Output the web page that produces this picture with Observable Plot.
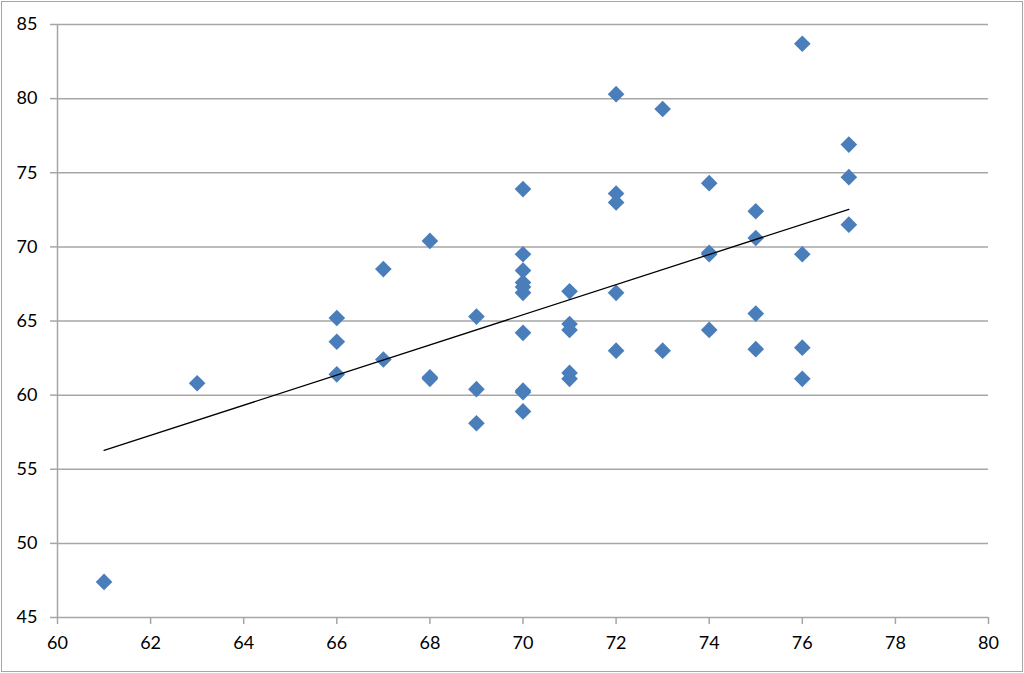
<!DOCTYPE html>
<html>
<head>
<meta charset="utf-8">
<script src="https://cdn.jsdelivr.net/npm/d3@7"></script>
<script src="https://cdn.jsdelivr.net/npm/@observablehq/plot@0.6"></script>
<style>
  html, body { margin: 0; padding: 0; background: #fff; }
  #chart svg { display: block; outline: 1.5px solid #a6a6a6; outline-offset: -2px; }
</style>
</head>
<body>
<div id="chart"></div>
<script>
const xValues = [61, 63, 66, 66, 66, 67, 67, 68, 68, 68, 69, 69, 69,
  70, 70, 70, 70, 70, 70, 70, 70, 70, 70,
  71, 71, 71, 71, 71,
  72, 72, 72, 72, 72,
  73, 73,
  74, 74, 74, 74,
  75, 75, 75, 75,
  76, 76, 76, 76,
  77, 77, 77];
const yValues = [47.4, 60.8, 65.2, 63.6, 61.4, 68.5, 62.4, 70.4, 61.2, 61.1, 65.3, 60.4, 58.1,
  73.9, 69.5, 68.4, 67.6, 67.3, 66.9, 64.2, 60.3, 60.2, 58.9,
  67.0, 64.8, 64.4, 61.5, 61.1,
  80.3, 73.6, 73.0, 66.9, 63.0,
  79.3, 63.0,
  74.3, 69.6, 69.5, 64.4,
  72.4, 70.6, 65.5, 63.1,
  83.7, 69.5, 63.2, 61.1,
  76.9, 74.7, 71.5];
const xTicks = [60, 62, 64, 66, 68, 70, 72, 74, 76, 78, 80];
const yTicks = [45, 50, 55, 60, 65, 70, 75, 80, 85];

const data = xValues.map((x, i) => ({x, y: yValues[i]}));

const chart = Plot.plot({
  width: 1024,
  height: 673,
  marginLeft: 57,
  marginRight: 36,
  marginTop: 24,
  marginBottom: 56,
  style: {fontFamily: "Lato, sans-serif", fontSize: "18px", background: "#fff", color: "black"},
  x: {domain: [60, 80], ticks: xTicks, label: null},
  y: {domain: [45, 85], ticks: yTicks, label: null},
  marks: [
    Plot.gridY(yTicks, {stroke: "#a6a6a6", strokeOpacity: 1, strokeWidth: 1.5}),
    Plot.ruleX([60], {stroke: "#a6a6a6", strokeWidth: 1.5}),
    Plot.axisY(yTicks, {tickSize: 7, tickPadding: 13, stroke: "#a6a6a6", strokeWidth: 1.5, fill: "black"}),
    Plot.axisX(xTicks, {tickSize: 7, tickPadding: 12, stroke: "#a6a6a6", strokeWidth: 1.5, fill: "black"}),
    Plot.dot(data, {x: "x", y: "y", symbol: "diamond2", r: 7.5, fill: "#4a7ebb", stroke: "none"}),
    Plot.linearRegressionY(data, {x: "x", y: "y", stroke: "black", strokeWidth: 1.3, ci: 0})
  ]
});
document.getElementById("chart").appendChild(chart);
</script>
</body>
</html>
